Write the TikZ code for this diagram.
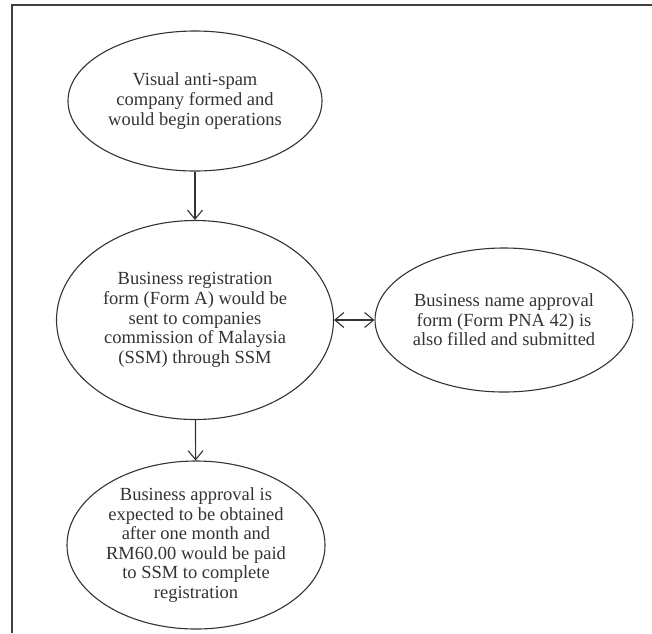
\documentclass[tikz,border=0pt]{standalone}
\usepackage{fontspec}
\setmainfont{Liberation Serif}
\usetikzlibrary{shapes.geometric,arrows.meta}

\begin{document}
\begin{tikzpicture}[x=1pt,y=-1pt,
	stage/.style={draw=black!80,line width=1.1pt,ellipse,inner sep=0pt,align=center,text=black!80,font=\fontsize{18.5}{19.6}\selectfont},
	link/.style={draw=black!80,line width=1.1pt,-{Straight Barb[length=9pt,width=15pt]}},
	both/.style={draw=black!80,line width=1.1pt,{Straight Barb[length=9pt,width=15pt]}-{Straight Barb[length=9pt,width=15pt]}}]
	\useasboundingbox (0,0) rectangle (652,633);
	\draw [line width=1.2pt,black!75] (12,633) -- (12,5) -- (652,5);

	\node [stage,minimum width=254pt,minimum height=140pt] (formed) at (195,101) {Visual anti-spam\\company formed and\\would begin operations};
	\node [stage,minimum width=277pt,minimum height=199pt] (regform) at (195,320) {Business registration\\form (Form A) would be\\sent to companies\\commission of Malaysia\\(SSM) through SSM};
	\node [stage,minimum width=252pt,minimum height=144pt] (nameform) at (504,320) {Business name approval\\form (Form PNA 42) is\\also filled and submitted};
	\node [stage,minimum width=258pt,minimum height=168pt] (approval) at (196,545) {Business approval is\\expected to be obtained\\after one month and\\RM60.00 would be paid\\to SSM to complete\\registration};

	\draw [link] (formed) -- (regform);
	\draw [link] (regform) -- (approval);
	\draw [both] (regform) -- (nameform);
\end{tikzpicture}
\end{document}
